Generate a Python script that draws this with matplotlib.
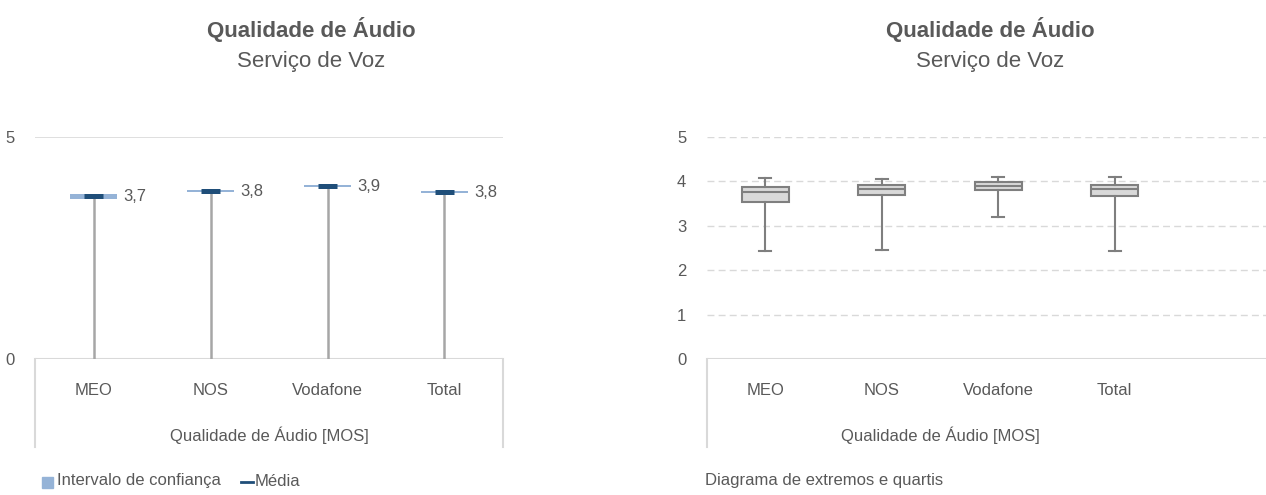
import numpy as np
import matplotlib.pyplot as plt
from matplotlib import font_manager
from matplotlib.patches import Rectangle
from matplotlib.lines import Line2D

# Data

categories = ["MEO", "NOS", "Vodafone", "Total"]
means = [3.66, 3.78, 3.89, 3.76]
ci_low = [3.61, 3.76, 3.87, 3.73]
ci_high = [3.71, 3.80, 3.91, 3.79]

box_whislo = [2.44, 2.46, 3.20, 2.44]
box_q1 = [3.54, 3.69, 3.81, 3.67]
box_med = [3.75, 3.83, 3.90, 3.84]
box_q3 = [3.88, 3.92, 3.99, 3.93]
box_whishi = [4.07, 4.05, 4.09, 4.09]

title = "Qualidade de Áudio"
subtitle = "Serviço de Voz"
xlabel = "Qualidade de Áudio [MOS]"

# Styles

text_c = "#595959"
grid_c = "#D9D9D9"
stem_c = "#A6A6A6"
ci_c = "#95B3D7"
mean_c = "#1F4E79"
box_c = "#7F7F7F"
box_fill = "#D9D9D9"

names = {f.name for f in font_manager.fontManager.ttflist}
if "Liberation Sans Narrow" in names:
    narrow = "Liberation Sans Narrow"
    nsize = 14.4
else:
    narrow = "Liberation Sans"
    nsize = 12
wide = "Liberation Sans"

W, H = 1266, 495
fig = plt.figure(figsize=(W / 100, H / 100), dpi=100)

def fx(px):
    return px / W

def fy(py):
    return 1 - py / H

ax1 = fig.add_axes([fx(35), fy(359), fx(468), 222 / H])
ax2 = fig.add_axes([fx(707), fy(359), fx(W - 707), 222 / H])

x = np.arange(len(categories))


def frame(ax, ticks, dashed):
    ax.set_ylim(0, 5)
    for s in ax.spines.values():
        s.set_visible(False)
    ax.set_yticks(ticks)
    ax.set_yticklabels([str(t) for t in ticks], fontfamily=narrow,
                       fontsize=nsize, color=text_c)
    ax.tick_params(axis="y", length=0, pad=15)
    ax.set_xticks([])
    for t in ticks[1:]:
        if dashed:
            ax.axhline(t, color=grid_c, lw=1.0, ls=(0, (5, 3)), zorder=0)
        else:
            ax.axhline(t, color=grid_c, lw=1.2, zorder=0)
    ax.axhline(0, color=grid_c, lw=1.5, zorder=0)
    # category labels below the axis
    for i, c in enumerate(categories):
        ax.text(i, -0.14, c, transform=ax.get_xaxis_transform(), ha="center",
                va="center", fontfamily=narrow, fontsize=nsize, color=text_c)
    ax.text(1.5, -0.345, xlabel, transform=ax.get_xaxis_transform(),
            ha="center", va="center", fontfamily=narrow, fontsize=nsize,
            color=text_c)


# Left chart: mean with confidence interval

ax1.set_xlim(-0.5, 3.5)
frame(ax1, [0, 5], False)
for xa in [0, 1]:
    ax1.add_line(Line2D([xa, xa], [0, -0.396], transform=ax1.transAxes,
                        color=grid_c, lw=1.5, clip_on=False))

ax1.vlines(x, 0, means, color=stem_c, lw=1.8, zorder=2)
ax1.bar(x, np.array(ci_high) - np.array(ci_low), bottom=ci_low, width=0.4,
        color=ci_c, zorder=3)
ax1.hlines(means, x - 0.08, x + 0.08, color=mean_c, lw=3.6, zorder=4)
for i, m in enumerate(means):
    ax1.text(i + 0.255, m, ("%.1f" % m).replace(".", ","), ha="left",
             va="center", fontfamily=narrow, fontsize=nsize, color=text_c)

# Right chart: box plot

ax2.set_xlim(-0.5, (W - 707) / 116.5 - 0.5)
frame(ax2, [0, 1, 2, 3, 4, 5], True)
ax2.add_line(Line2D([0, 0], [0, -0.396], transform=ax2.transAxes,
                    color=grid_c, lw=1.5, clip_on=False))

stats = []
for i in range(len(categories)):
    stats.append({"whislo": box_whislo[i], "q1": box_q1[i], "med": box_med[i],
                  "q3": box_q3[i], "whishi": box_whishi[i], "fliers": []})
ax2.bxp(stats, positions=x, widths=0.4, capwidths=0.1, patch_artist=True,
        showfliers=False,
        boxprops=dict(facecolor=box_fill, edgecolor=box_c, linewidth=1.5),
        medianprops=dict(color=box_c, linewidth=1.5),
        whiskerprops=dict(color=box_c, linewidth=1.5),
        capprops=dict(color=box_c, linewidth=1.5))
ax2.set_xticks([])
ax2.set_xlim(-0.5, (W - 707) / 116.5 - 0.5)

# Titles

for cx in [311, 990]:
    fig.text(fx(cx), fy(30), title, ha="center", va="center",
             fontfamily=wide, fontweight="bold", fontsize=16, color=text_c)
    fig.text(fx(cx), fy(61), subtitle, ha="center", va="center",
             fontfamily=wide, fontsize=16, color=text_c)

# Legends

fig.patches.append(Rectangle((fx(42), fy(488)), fx(11), 11 / H, color=ci_c,
                             transform=fig.transFigure))
fig.text(fx(57), fy(481), "Intervalo de confiança", ha="left", va="center",
         fontfamily=narrow, fontsize=nsize, color=text_c)
fig.lines.append(Line2D([fx(241), fx(253)], [fy(482), fy(482)], color=mean_c,
                        lw=2, transform=fig.transFigure))
fig.text(fx(255), fy(481), "Média", ha="left", va="center",
         fontfamily=narrow, fontsize=nsize, color=text_c)
fig.text(fx(705), fy(481), "Diagrama de extremos e quartis", ha="left",
         va="center", fontfamily=narrow, fontsize=nsize, color=text_c)

fig.savefig("out.png", dpi=100)
